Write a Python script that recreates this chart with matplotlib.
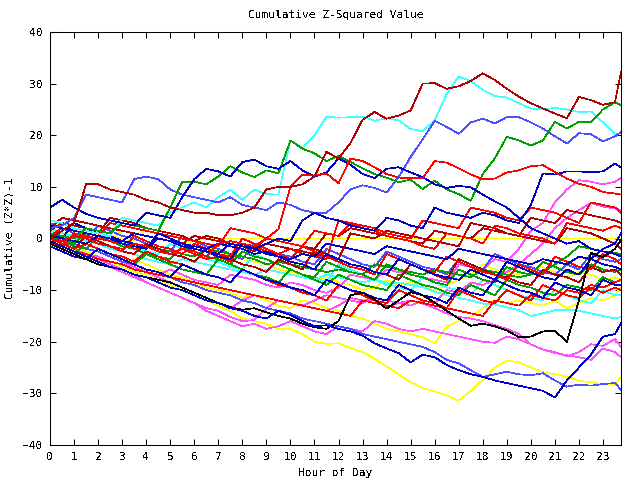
import numpy as np
import matplotlib
matplotlib.use("Agg")
import matplotlib.pyplot as plt

# half-hour sampling, last sample at the right edge of the plot
hours = np.append(np.arange(0, 24, 0.5), 23.75)

# --- upper lines ---
maroon_top = [0, 1.5, 3, 10.5, 10.5, 9.5, 9, 8.5, 7.5, 7,
              6, 5.5, 5, 5, 4.5, 4.5, 5, 6, 9.5, 10,
              10, 10.5, 12, 16.8, 15.5, 18.5, 23, 24.5, 23.2, 23.8,
              24.8, 30, 30.1, 29, 29.5, 30.5, 32, 30.7, 29, 27.5,
              26.2, 25.2, 24.2, 23.3, 27.4, 26.8, 25.9, 26.4, 32.3]
cyan_top = [3.5, 3, 2, 1.5, 1, 0.5, 4, 3.5, 3, 2.5,
            5, 6, 7, 6, 8, 9.4, 7.5, 9.5, 8.6, 8.5,
            19, 17.5, 20, 23.6, 23.4, 23.5, 23.6, 22.8, 23.3, 22.9,
            21.2, 20.8, 22.9, 28, 31.4, 30.5, 28.8, 27.6, 27.3, 26.2,
            25.2, 25, 25.3, 25, 24.5, 24.6, 22.5, 20.2, 20.4]
slate_top = [2, 2.5, 4, 8.5, 8, 7.5, 7, 11.5, 12, 11.5,
             9.5, 8.5, 8, 7.5, 7, 8, 6.5, 6, 5.5, 7,
             6.5, 5.5, 5, 5, 7, 9.5, 10.3, 9.8, 8.9, 11.9,
             15.8, 19.2, 22.8, 21.6, 20.3, 22.5, 23.2, 22.3, 23.5, 23.5,
             22.5, 21.3, 19.8, 18.4, 20.4, 20.2, 18.8, 19.8, 20.6]
green_top = [1, 0.5, 0, 2, 1.5, 1, 3, 2.5, 2, 1.5,
             6, 11, 11, 10.5, 12, 14, 12.8, 11.9, 13.2, 12.6,
             19, 17.4, 16.5, 15, 16, 14.8, 13.6, 12.5, 11.8, 10.9,
             11.4, 9.6, 11.2, 9.5, 8.6, 7.3, 12.5, 15.5, 19.7, 19,
             18, 19, 22.6, 21.3, 22.6, 22.5, 25, 26.4, 25.8]
blue_high = [6, 7.5, 6, 4.8, 4, 3.5, 3, 2.5, 5, 4.5,
             4, 8, 11.5, 13.5, 13, 12, 14.8, 15.3, 14, 13.5,
             15, 13.2, 12, 12.8, 15.5, 14.3, 12.5, 11.7, 13.5, 13.8,
             12.8, 11.9, 10.5, 9.8, 10.2, 9.9, 8.5, 7.2, 6, 4,
             2, 1, 0, -1, -0.5, -2, -2.5, -3, -3.5]
blue_late = [0.5, 0, -0.5, -1, 0.5, 0, -1, -1.5, -2, 0,
             -0.5, -1.5, -2, -2.5, -3, -1, -1.5, -2, -1, 0,
             -0.5, 3.5, 5, 4, 3.5, 2.5, 2, 1.5, 4, 3.5,
             2.5, 2, 6, 5, 4.5, 4, 5, 4.5, 3.5, 3,
             6.5, 12.6, 12.4, 13, 13, 12.8, 13, 14.5, 13.8]
red_high = [0, -0.5, 0.5, 0, -1, -1.5, -2, -1, -1.5, -2.5,
            -3, -2, -2.5, -3.5, -1, -0.5, -1, -1.5, 0, 1.8,
            10, 12.3, 12.2, 12.6, 10.7, 15.5, 15, 13.8, 12.5, 11.8,
            11.7, 11.7, 15, 14.7, 13.6, 12.4, 11.5, 11.6, 12.8, 13.2,
            14, 14.2, 12.9, 11.6, 10.6, 10, 9, 8.7, 8.5]
pink_rise = [0, -1, -2, -3, -3.5, -4.5, -5, -5.5, -6.5, -7,
             -6, -7, -8, -8.5, -9, -7, -7.5, -8, -9, -9.5,
             -8.5, -9, -10, -10.5, -9.5, -7, -7.5, -8, -6, -6.5,
             -7, -7.5, -8, -8.5, -5, -5.5, -6, -4, -4.5, -2,
             1.5, 3, 7, 9.5, 11.3, 11, 10.5, 11, 11.7]
pink_rise2 = [1, 0, -1, -2, -2.5, -3.5, -4.5, -5.5, -6.5, -7.5,
              -8.5, -9.5, -10.5, -11.5, -12.5, -13.5, -12, -11, -11.5, -12,
              -12.5, -13, -12, -11, -11.5, -12, -12.5, -11.5, -12, -12.5,
              -13, -12, -12.5, -10, -10.5, -8.5, -9, -8, -6.5, -5,
              -3, -1, 2, 4, 5.5, 6.9, 6.2, 5.8, 5.5]

# --- middle band ---
red_m1 = [0.5, 2, 1.5, 1, 0.5, 3, 2.5, 2, 1.5, 1,
          0.5, 0, -0.5, -1, -1.5, 2, 1.5, 1, 0, -0.5,
          -1, -1.5, 1.5, 1, 0.5, 3, 2.5, 2, 1, 0.5,
          0, 3.5, 3, 2.5, 2, 6, 5.5, 5, 4, 3.5,
          6, 5.5, 5, 4, 3, 7, 6.5, 6, 5]
red_m2 = [-1, -1.5, 1, 0.5, 0, -0.5, -1, -2, -1.5, -2.5,
          -3, -2, -3, -4, -3.5, -4.5, -1, -1.5, -2.5, -3,
          -2, -3, -3.5, -4, 3.5, 3, 2, 1.5, 0.5, 0,
          -0.5, -1.5, -2, 1, 0.5, 0, -1, 2.5, 2, 1,
          0.5, 0, -1, 3, 2.5, 2, 1.5, 2.5, 2]
blue_m1 = [2.5, 2, 1.5, 1, 0.5, 0, -0.5, 1, 0.5, 0,
           -0.5, -1, -1.5, -2, -1, -1.5, -2, -3, -2.5, -3.5,
           -4, -3, -3.5, -1, -1.5, -2, -2.5, -3, -1.5, -2,
           -2.5, -3, -3.5, -4, -2, -2.5, -3, -3.5, -4, -4.5,
           -5, -4, -4.5, -5, -3.5, -4, -2, -1, 1]
maroon_m1 = [1.5, 3, 2.5, 2, 1, 4, 3.5, 3, 2, 1.5,
             1, 0.5, -0.5, 0.5, 0, -1, -1.5, -2.5, -1, -1.5,
             -2, -2.5, -3, -3.5, -4, 1, 0.5, 0, 1.5, 1,
             0.5, 0, -0.5, -1, -1.5, 3, 2.5, 2, 1, 0.5,
             0, -0.5, -1, 2, 1.5, 1, 0, -1, -2]
green_m1 = [0, -0.5, -1, 1, 0.5, 0, -0.5, -1, -1.5, -2,
            -2.5, -3, -3.5, -2, -2.5, -3, -3.5, -4, -5, -4.5,
            -5, -5.5, -6, -6.5, -6, -6.5, -7, -5, -5.5, -6,
            -6.5, -7, -6, -6.5, -7, -7.5, -6, -6.5, -7, -7.5,
            -7, -6.5, -5, -3.5, -1.5, -2, -2.5, -2.8, -3]
red_m3 = [-0.5, -1.5, 1, 0, -1, -1.5, -2.5, 0.5, -0.5, -1.5,
          -2, -3, -1, -2, -3, -3.5, 0, -1, -2, -3,
          -4, -1.5, -2.5, -3.5, -4.5, -5.5, -6, -7, -3, -4,
          -5, -6, -6.5, -3.5, -4.5, -5.5, -6.5, -7, -8, -5,
          -6, -7, -3.5, -4.5, -5.5, -6, -3, -4, -5]
blue_m2 = [1, 0, 3, 2, 1, 0.5, -0.5, -1, -2, 1,
           0, -1, -2, -2.5, -3.5, -4, -1, -2, -3, -3.5,
           -4.5, -5, -6, -3, -4, -5, -5.5, -6.5, -7, -4,
           -5, -6, -7, -7.5, -8, -6, -7, -8, -4.5, -5.5,
           -6.5, -7.5, -8, -6, -7, -4, -5, -5.5, -6]
maroon_m2 = [0, -1, -2, 0.5, -0.5, -1.5, -2.5, -3, -1, -2,
             -3, -3.5, -4.5, -2, -3, -4, -5, -5.5, -6.5, -4,
             -5, -6, -2, -3, -4, -5, -5.5, -6.5, -7, -8,
             -5, -6, -7, -8, -4, -5, -6, -7, -7.5, -8.5,
             -9, -6, -7, -7.5, -8.5, -5.5, -6.5, -6, -7]
green_m2 = [-1, -2, -3, -1, -2, -3, -4, -5, -3, -4,
            -5, -6, -6.5, -7, -4, -5, -6, -7, -7.5, -8.5,
            -6, -7, -8, -9, -7, -8, -9, -9.5, -10, -7,
            -8, -9, -9.5, -10.5, -11, -9, -10, -11, -8, -9,
            -9.5, -10.5, -11, -9, -9.5, -10, -7.5, -8.5, -8]
red_m4 = [0, -1, -2, -1, -2, -3, -3.5, -4.5, -2.5, -3.5,
          -4.5, -5, -6, -7, -7.5, -8.5, -6, -7, -8, -9,
          -9.5, -10.5, -11, -12, -9, -10, -11, -12, -12.5, -10,
          -11, -12, -12.5, -13.5, -10, -11, -12, -12.5, -10, -11,
          -12, -9, -10, -11, -11.5, -9.5, -10.5, -9.5, -10]
slate_m1 = [3, 2, 1, 0, 2.5, 1.5, 0.5, 0, -1, -2,
            -2.5, 0.5, -0.5, -1.5, -2, -3, -4, -1, -2, -3,
            -3.5, -4.5, -5, -2, -3, -4, -5, -5.5, -2.5, -3.5,
            -4.5, -5.5, -6, -7, -4, -5, -6, -3, -4, -5,
            -5.5, -6.5, -7, -5, -6, -3, -4, -4.5, -4]
cyan_m1 = [1.5, 0.5, -0.5, 2, 1, 0, -1, -1.5, -2.5, -3,
           -1, -2, -3, -4, -4.5, -5.5, -6, -3, -4, -5,
           -6, -7, -7.5, -8.5, -5, -6, -7, -8, -8.5, -9.5,
           -10, -7.5, -8.5, -9.5, -10, -11, -8, -9, -10, -11,
           -11.5, -12, -10, -11, -12, -12.5, -10, -11, -11]
blue_m3 = [-1.5, -2.5, -3.5, -4, -2, -3, -4, -5, -6, -6.5,
           -7.5, -5, -6, -7, -7.5, -8.5, -6, -7, -8, -8.5,
           -9.5, -10, -11, -8, -9, -10, -10.5, -11.5, -12, -9,
           -10, -11, -11.5, -12.5, -9.5, -10.5, -11, -8, -9, -10,
           -10.5, -11.5, -8.5, -9.5, -10, -11, -8, -9, -9]
green_m3 = [0.5, -0.5, -1.5, -2, 0.5, -0.5, -1.5, -2, -3, -3.5,
            -4, -1.5, -2.5, -3.5, -4, -5, -2.5, -3.5, -4, -5,
            -6, -7, -7.5, -4.5, -5.5, -6.5, -7, -8, -5, -6,
            -7, -7.5, -8.5, -9, -6, -7, -8, -8.5, -5.5, -6.5,
            -7, -4.5, -5.5, -6.5, -7, -5, -6, -6.5, -6]
red_m5 = [-1, -1.5, -2.5, -3, -4, -4.5, -5, -6, -6.5, -7,
          -7.5, -8, -8.5, -9, -9.5, -10, -10.5, -11, -11.5, -12,
          -12.5, -13, -13.5, -14, -14.5, -15, -12, -12.5, -13, -13.5,
          -12, -12.5, -13, -13.5, -14, -14.5, -15, -12, -12.5, -13,
          -11, -11.5, -12, -10, -10.5, -9, -9.5, -8.5, -8]
maroon_m3 = [2, 4, 3.5, 3, 2.5, 2, 1.5, 1, 0.5, 0,
             -0.5, -1, 0.5, 0, -0.5, -1, -1.5, -2, 0, -0.5,
             -1, -1.5, -2, 1, 0.5, 2, 1.5, 1, 0.5, 0,
             -0.5, -1, 1.5, 1, 0.5, 0, 2, 1.5, 1, 0.5,
             4, 3.5, 3, 5.5, 5, 4.5, 4, 3.5, 3]
yellow_flat = [0.5, 0, 1, 0.5, 0, -0.5, 1.5, 1, 0.5, 0,
               -0.5, -1, -0.5, 0, 0, 0, 0, 0, 0, 0,
               0, 0, 0, 0, 0, 0, 0, 0, 0, 0,
               0, 0, 0, 0, 0, 0, 0, 0, 0, 0,
               0, 0, 0, 0, 0, 0, 0, 0, 0]
yellow_mid = [1, 0, 2, 1.5, 1, 0.5, 0, -0.5, 2, 1.5,
              1, 0.5, -0.5, -1.5, -2.5, -3.5, -4, -4.5, -5, -6,
              -6.5, -7, -8, -7.5, -8.5, -9, -10, -9.5, -8, -9,
              -8.5, -9.5, -10, -9, -8, -7, -5, -6, -6.5, -7,
              -6, -5.5, -6.5, -7.5, -6.5, -7, -8, -7.5, -8]

# --- lower lines ---
yellow_low = [0.5, -0.5, -1, -2, -2.5, -3.5, -4.5, -4, -5, -6,
              -7, -7.5, -8.5, -9.5, -10, -10.5, -11.5, -11, -12, -13,
              -13.5, -12, -12.5, -13.5, -14, -15, -15.5, -16.5, -17.5, -18,
              -18.5, -19.1, -20.3, -17.1, -16, -15.2, -13.5, -11.9, -12.5, -12,
              -12.5, -13, -12, -13.5, -12.5, -11.5, -12, -11, -9.5]
cyan_low = [2, 1, 0.5, -0.5, -1, -2, -2.5, -3, -4, -4.5,
            -5, -4, -4.5, -5, -5.5, -6, -6.5, -7, -6, -6.5,
            -7, -7.5, -8, -7, -7.5, -8, -8.5, -8, -9, -8.5,
            -9, -9.4, -10.3, -11, -11.5, -12, -12.6, -12.8, -13.3, -13.9,
            -15, -14.5, -13.9, -13.8, -14, -14.5, -15, -15.5, -15.2]
black_line = [-1, -2, -3, -4, -5, -5.5, -6, -7, -7.5, -8,
              -8.5, -9.5, -10.5, -11.5, -12.5, -13.3, -13.8, -13.5, -14.3, -15,
              -15.5, -16.5, -17.2, -17.5, -16, -11, -10.5, -11.8, -13.6, -12,
              -10.4, -11, -12.4, -14, -15.5, -16.9, -16.5, -17, -17.8, -19.1,
              -19, -18, -17.9, -20, -12, -2.8, -3.6, -2, -0.3]
pink_low = [-0.5, -1.5, -2.5, -3.5, -4.5, -5.5, -6.5, -7.5, -8.5, -9.5,
            -10.5, -11.5, -12.5, -13.5, -14, -15.2, -16, -15.8, -13.5, -12,
            -12.5, -13, -13.5, -14, -13, -11.5, -12, -11.9, -13.3, -12.5,
            -12, -12.6, -13.5, -14.5, -15.2, -15.5, -16, -16.8, -17.5, -18.5,
            -20.5, -21.5, -22.2, -22.6, -23, -23.5, -21.3, -22, -23]
pink_low2 = [0, -1, -2, -3, -4, -5, -6, -7, -8.5, -9.5,
             -10.5, -11.5, -12.5, -14, -15, -16, -17, -16.5, -17.5, -17,
             -16, -17, -18, -18.5, -17, -17.5, -18, -16, -16.5, -17.5,
             -18, -17.5, -18, -18.5, -19, -19.5, -20, -20.2, -19, -19.5,
             -20.5, -21.5, -22, -22.8, -22, -20.5, -20.8, -19.5, -21]
blue_low = [-0.5, -1.5, -2.5, -3.5, -4.5, -5.5, -6, -7, -7.5, -8.5,
            -9.5, -10, -11, -12, -12.5, -13.5, -14, -15, -15.5, -14,
            -14.8, -16, -17, -16.8, -17.5, -18, -18.8, -20.3, -21.3, -22.2,
            -24, -22.5, -23, -24.5, -25.5, -26.3, -26.8, -27.5, -28, -28.5,
            -29, -29.5, -30.8, -27.5, -25, -22.5, -19, -18.5, -16.4]
slate_low = [1, 0, -1, -2, -2.5, -3.5, -4.5, -5, -6, -6.5,
             -7.5, -8.5, -9, -10, -10.5, -11, -12, -12.5, -13.5, -14,
             -14.5, -15.5, -16, -16.5, -17, -17.5, -18.5, -19, -19.5, -20,
             -20.5, -21, -22, -23.5, -24.2, -25.5, -26.8, -26.3, -25.8, -26.3,
             -26.5, -26.1, -27.5, -28.7, -28.3, -28.5, -28.2, -28, -29.3]
yellow_bottom = [0, -1, -1.5, -2.5, -3.5, -4.5, -5.5, -6.5, -7, -8,
                 -9, -10, -11, -12, -13, -14, -15.5, -16, -16.5, -17.5,
                 -17.5, -18.5, -20, -20.4, -20.3, -21.2, -22, -23.3, -24.8, -26.3,
                 -27.8, -29, -29.6, -30.4, -31.4, -29.5, -27.4, -25, -23.6, -24,
                 -25, -25.9, -26.3, -26.7, -27.6, -27.8, -28.3, -28.2, -26.8]

RED, GREEN, BLUE, PINK = '#ff0000', '#00a000', '#0000c0', '#ff50ff'
CYAN, MAROON, YELLOW, BLACK, SLATE = '#40ffff', '#b00000', '#ffff00', '#000000', '#5050ff'

series = [
    (yellow_flat, YELLOW), (yellow_mid, YELLOW), (yellow_low, YELLOW), (yellow_bottom, YELLOW),
    (cyan_m1, CYAN), (cyan_low, CYAN),
    (pink_rise, PINK), (pink_rise2, PINK), (pink_low, PINK), (pink_low2, PINK),
    (slate_m1, SLATE), (slate_low, SLATE),
    (green_m1, GREEN), (green_m2, GREEN), (green_m3, GREEN),
    (maroon_m1, MAROON), (maroon_m2, MAROON), (maroon_m3, MAROON),
    (red_m1, RED), (red_m2, RED), (red_m3, RED), (red_m4, RED), (red_m5, RED),
    (blue_m1, BLUE), (blue_m2, BLUE), (blue_m3, BLUE),
    (black_line, BLACK), (blue_low, BLUE),
    (cyan_top, CYAN), (slate_top, SLATE), (green_top, GREEN),
    (blue_high, BLUE), (blue_late, BLUE), (red_high, RED), (maroon_top, MAROON),
]

plt.rcParams['font.family'] = 'DejaVu Sans Mono'
plt.rcParams['font.size'] = 8
plt.rcParams['text.antialiased'] = False

fig = plt.figure(figsize=(6.4, 4.8), dpi=100)
ax = fig.add_axes([50/640, 35/480, 571/640, 413/480])

for vals, col in series:
    ax.plot(hours, vals, color=col, lw=0.5, antialiased=False)

ax.set_xlim(0, 23.75)
ax.set_ylim(-40, 40)
ax.set_xticks(range(24))
ax.set_yticks(range(-40, 41, 10))
ax.tick_params(direction='in', length=4.5, width=0.75, top=True, right=True,
               labeltop=False, labelright=False, pad=5)
for s in ax.spines.values():
    s.set_linewidth(0.75)

ax.set_title('Cumulative Z-Squared Value', fontsize=8, pad=10)
ax.set_xlabel('Hour of Day', labelpad=4)
ax.set_ylabel('Cumulative (Z*Z)-1', labelpad=6)

fig.savefig('out.png', dpi=100)
